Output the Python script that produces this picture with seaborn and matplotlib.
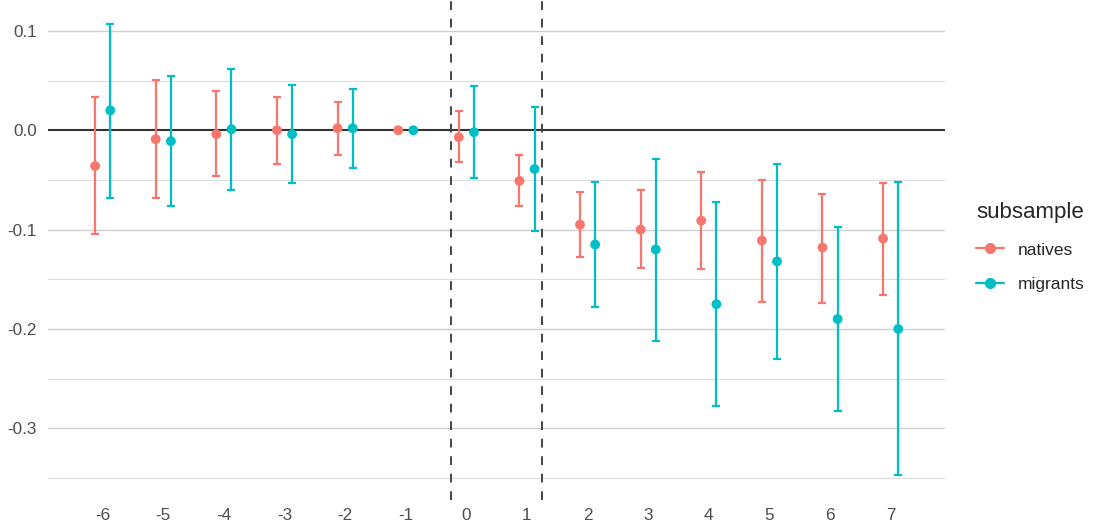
import numpy as np
import pandas as pd
import matplotlib
matplotlib.use("Agg")
import matplotlib.pyplot as plt
import seaborn as sns
from matplotlib.lines import Line2D

# ==== data ====
periods = [-6, -5, -4, -3, -2, -1, 0, 1, 2, 3, 4, 5, 6, 7]

natives_est = [-0.036, -0.009, -0.004, 0.000, 0.002, 0.000, -0.007, -0.051, -0.095, -0.100, -0.091, -0.111, -0.118, -0.109]
natives_lo = [-0.104, -0.068, -0.046, -0.034, -0.025, 0.000, -0.032, -0.076, -0.128, -0.139, -0.140, -0.173, -0.174, -0.166]
natives_hi = [0.033, 0.051, 0.039, 0.033, 0.028, 0.000, 0.019, -0.025, -0.062, -0.060, -0.042, -0.050, -0.064, -0.053]

migrants_est = [0.020, -0.011, 0.001, -0.004, 0.002, 0.000, -0.002, -0.039, -0.115, -0.120, -0.175, -0.132, -0.190, -0.200]
migrants_lo = [-0.068, -0.076, -0.060, -0.053, -0.038, 0.000, -0.048, -0.101, -0.178, -0.212, -0.278, -0.230, -0.283, -0.347]
migrants_hi = [0.107, 0.055, 0.062, 0.046, 0.042, 0.000, 0.045, 0.023, -0.052, -0.029, -0.072, -0.034, -0.097, -0.052]

groups = ["natives", "migrants"]
colors = {"natives": "#F8766D", "migrants": "#00BFC4"}
event_lines = [-0.25, 1.25]

# ==== build long table ====
df = pd.concat([
    pd.DataFrame({"period": periods, "estimate": natives_est, "lo": natives_lo,
                  "hi": natives_hi, "subsample": "natives"}),
    pd.DataFrame({"period": periods, "estimate": migrants_est, "lo": migrants_lo,
                  "hi": migrants_hi, "subsample": "migrants"}),
], ignore_index=True)

# dodge like position_dodge
dodge = {"natives": -0.125, "migrants": 0.125}
df["x"] = df["period"] + df["subsample"].map(dodge)

# ==== plot ====
sns.set_theme(style="white")
plt.rcParams["font.family"] = ["Liberation Sans", "DejaVu Sans"]
plt.rcParams["axes.unicode_minus"] = False

fig, ax = plt.subplots(figsize=(10.94, 5.29), dpi=100)
fig.subplots_adjust(left=0.044, right=0.864, top=0.998, bottom=0.055)

# grid (major + minor, horizontal only)
for v in [0.1, -0.1, -0.2, -0.3]:
    ax.axhline(v, color="#cfcfcf", lw=1.0, zorder=0)
for v in [0.05, -0.05, -0.15, -0.25, -0.35]:
    ax.axhline(v, color="#dcdcdc", lw=0.8, zorder=0)

ax.axhline(0, color="#333333", lw=1.5, zorder=1)
for xv in event_lines:
    ax.axvline(xv, color="#444444", lw=1.4, ls=(0, (4.5, 4.5)), zorder=1)

for g in groups:
    sub = df[df["subsample"] == g]
    ax.errorbar(sub["x"], sub["estimate"],
                yerr=[sub["estimate"] - sub["lo"], sub["hi"] - sub["estimate"]],
                fmt="none", ecolor=colors[g], elinewidth=1.6, capsize=2.6,
                capthick=1.6, zorder=2)

sns.scatterplot(data=df, x="x", y="estimate", hue="subsample", palette=colors,
                hue_order=groups, s=50, edgecolor="none", legend=False, ax=ax, zorder=3)

ax.set_xlim(-6.9, 7.9)
ax.set_ylim(-0.372, 0.13)
ax.set_xticks(periods)
ax.set_xticklabels([str(p) for p in periods])
ax.set_yticks([0.1, 0.0, -0.1, -0.2, -0.3])
ax.set_yticklabels(["0.1", "0.0", "-0.1", "-0.2", "-0.3"])
ax.tick_params(axis="both", length=0, labelsize=12.3, labelcolor="#4d4d4d", pad=6)
ax.tick_params(axis="y", pad=8)
ax.set_xlabel("")
ax.set_ylabel("")
sns.despine(ax=ax, left=True, bottom=True)

handles = [Line2D([0], [0], color=colors[g], marker="o", markersize=7, lw=1.6) for g in groups]
leg = fig.legend(handles, groups, title="subsample", loc="center left",
                 bbox_to_anchor=(0.878, 0.533), frameon=False, fontsize=12.5,
                 title_fontsize=16, handlelength=1.6, handletextpad=0.8,
                 labelspacing=1.1)
leg._legend_box.align = "left"

fig.savefig("out.png", dpi=100)
